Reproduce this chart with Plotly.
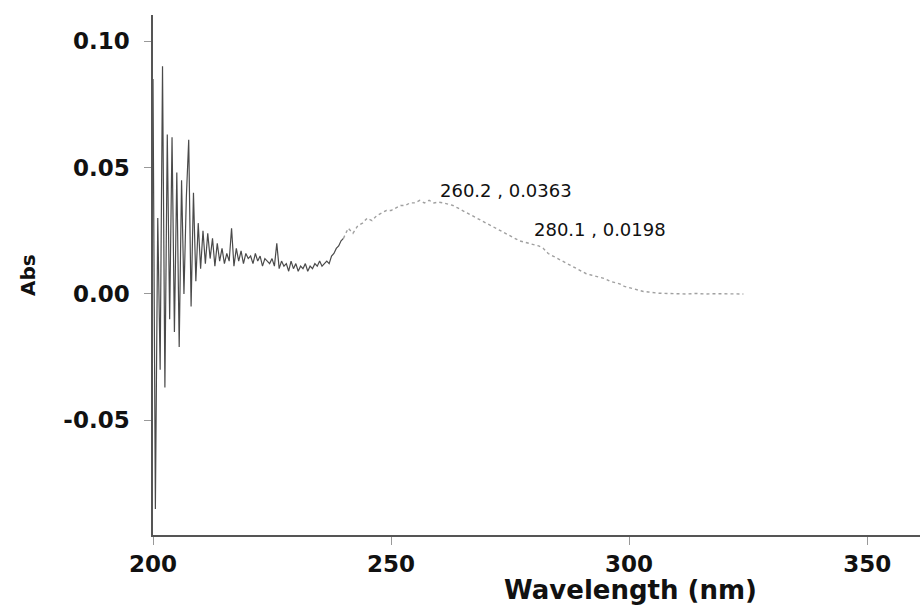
import plotly.graph_objects as go

# Wavelength (nm) and absorbance
wavelength = [
    200.0, 200.5, 201.0, 201.5, 202.0, 202.5, 203.0, 203.5, 204.0, 204.5,
    205.0, 205.5, 206.0, 206.5, 207.0, 207.5, 208.0, 208.5, 209.0, 209.5,
    210.0, 210.5, 211.0, 211.5, 212.0, 212.5, 213.0, 213.5, 214.0, 214.5,
    215.0, 215.5, 216.0, 216.5, 217.0, 217.5, 218.0, 218.5, 219.0, 219.5,
    220.0, 220.5, 221.0, 221.5, 222.0, 222.5, 223.0, 223.5, 224.0, 224.5,
    225.0, 225.5, 226.0, 226.5, 227.0, 227.5, 228.0, 228.5, 229.0, 229.5,
    230.0, 230.5, 231.0, 231.5, 232.0, 232.5, 233.0, 233.5, 234.0, 234.5,
    235.0, 235.5, 236.0, 236.5, 237.0, 237.5, 238.0, 238.5, 239.0, 239.5,
    240.0,
]
absorbance = [
    0.085, -0.085, 0.030, -0.030, 0.090, -0.037, 0.063, -0.010, 0.062, -0.015,
    0.048, -0.021, 0.045, 0.000, 0.038, 0.061, -0.005, 0.040, 0.005, 0.028,
    0.010, 0.025, 0.012, 0.024, 0.014, 0.022, 0.011, 0.020, 0.013, 0.018,
    0.012, 0.016, 0.013, 0.026, 0.011, 0.018, 0.013, 0.017, 0.012, 0.016,
    0.014, 0.015, 0.012, 0.016, 0.013, 0.015, 0.011, 0.014, 0.013, 0.012,
    0.014, 0.011, 0.020, 0.010, 0.013, 0.011, 0.012, 0.009, 0.013, 0.010,
    0.012, 0.009, 0.011, 0.010, 0.012, 0.009, 0.011, 0.010, 0.012, 0.011,
    0.013, 0.011, 0.012, 0.013, 0.012, 0.015, 0.016, 0.018, 0.019, 0.021,
    0.022,
]

wavelength_2 = [
    240, 241, 242, 243, 244, 245, 246, 247, 248, 249,
    250, 251, 252, 253, 254, 255, 256, 257, 258, 259,
    260, 261, 262, 263, 264, 265, 266, 267, 268, 269,
    270, 271, 272, 273, 274, 275, 276, 277, 278, 279,
    280, 281, 282, 283, 284, 285, 286, 287, 288, 289,
    290, 291, 292, 293, 294, 295, 296, 297, 298, 299,
    300, 301, 302, 303, 304, 305, 306, 308, 310, 312,
    314, 316, 318, 320, 322, 324,
]
absorbance_2 = [
    0.022, 0.026, 0.024, 0.027, 0.028, 0.030, 0.029, 0.031, 0.032, 0.033,
    0.033, 0.034, 0.035, 0.035, 0.036, 0.036, 0.037, 0.036, 0.037, 0.036,
    0.0363, 0.036, 0.0355, 0.035, 0.034, 0.033, 0.032, 0.031, 0.030, 0.029,
    0.028, 0.027, 0.026, 0.025, 0.024, 0.023, 0.022, 0.021, 0.0205, 0.020,
    0.0198, 0.019, 0.018, 0.016, 0.015, 0.014, 0.013, 0.012, 0.011, 0.010,
    0.009, 0.008, 0.0075, 0.007, 0.0065, 0.006, 0.005, 0.0045, 0.004, 0.003,
    0.0025, 0.002, 0.0015, 0.001, 0.0008, 0.0005, 0.0003, 0.0002, 0.0001, 0.0,
    0.0002, 0.0, 0.0001, 0.0, 0.0, 0.0,
]

peak_labels = ["260.2 , 0.0363", "280.1 , 0.0198"]
peak_x = [260.2, 280.1]
peak_y = [0.0363, 0.0198]
peak_shift = [12, 14]

x_ticks = [200, 250, 300, 350]
y_ticks = [0.10, 0.05, 0.00, -0.05]

fig = go.Figure()
fig.add_trace(go.Scatter(x=wavelength, y=absorbance, mode="lines",
                         line=dict(color="#4a4a4a", width=1.2), showlegend=False))
fig.add_trace(go.Scatter(x=wavelength_2, y=absorbance_2, mode="lines",
                         line=dict(color="#a0a0a0", width=1.4, dash="dot"), showlegend=False))

for lab, px, py, sh in zip(peak_labels, peak_x, peak_y, peak_shift):
    fig.add_annotation(x=px, y=py, text=lab, showarrow=False, xanchor="left",
                       yanchor="middle", yshift=sh, xshift=-2,
                       font=dict(family="DejaVu Sans", size=18, color="#111"))

fig.add_annotation(xref="paper", yref="paper", x=-0.163, y=0.5, text="<b>Abs</b>",
                   textangle=-90, showarrow=False, xanchor="center", yanchor="middle",
                   font=dict(family="DejaVu Sans", size=20, color="#111"))
fig.add_annotation(xref="paper", yref="paper", x=0.622, y=-0.106, text="<b>Wavelength (nm)</b>",
                   showarrow=False, xanchor="center", yanchor="middle",
                   font=dict(family="DejaVu Sans", size=26, color="#111"))

fig.update_xaxes(range=[200, 361.1], tickvals=x_ticks, ticktext=[str(v) for v in x_ticks],
                 showgrid=False, zeroline=False, showline=True, linecolor="#555", linewidth=1.5,
                 ticks="outside", ticklen=8, tickcolor="#999", ticklabelstandoff=0,
                 tickfont=dict(family="DejaVu Sans", size=23, color="#111", weight="bold"))
fig.update_yaxes(range=[-0.0953, 0.1103], tickvals=y_ticks,
                 ticktext=["0.10", "0.05", "0.00", "-0.05"],
                 showgrid=False, zeroline=False, showline=True, linecolor="#555", linewidth=1.5,
                 ticks="outside", ticklen=7, tickcolor="#999", ticklabelstandoff=10,
                 tickfont=dict(family="DejaVu Sans", size=23, color="#111", weight="bold"))

fig.update_layout(width=920, height=606, margin=dict(l=153, r=0, t=15, b=71, autoexpand=False),
                  paper_bgcolor="white", plot_bgcolor="white")

fig.write_html("out.html", config={"displayModeBar": False},
               post_script="document.body.style.margin='0';document.body.style.overflow='hidden';")
